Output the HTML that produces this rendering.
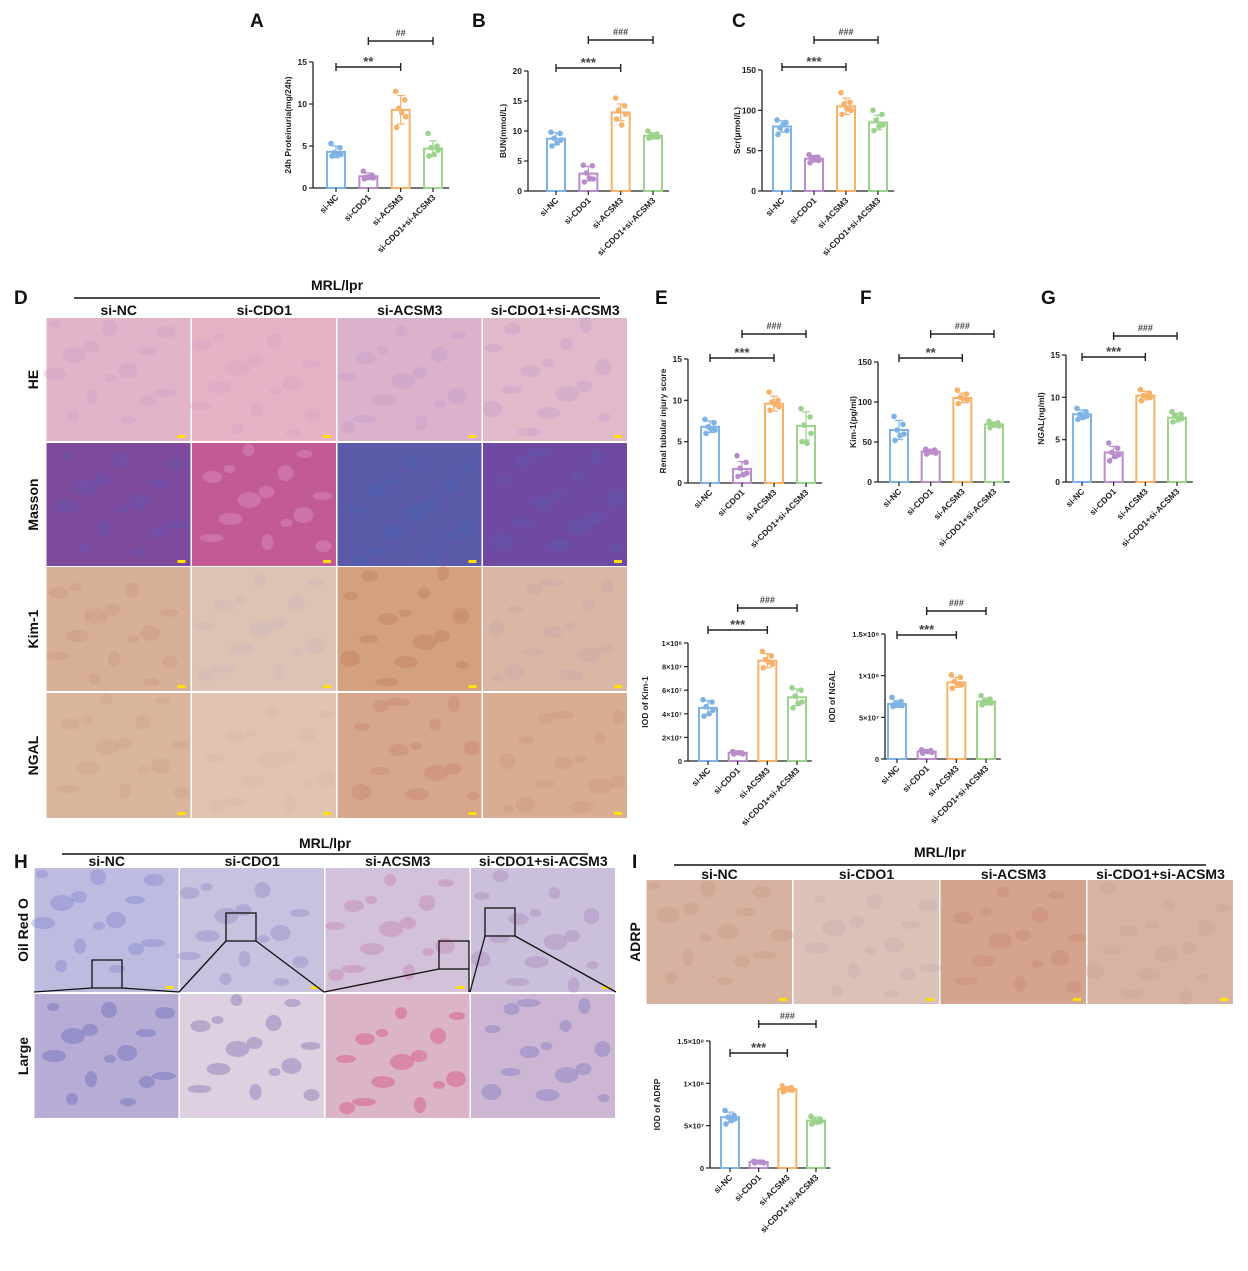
<!DOCTYPE html>
<html><head><meta charset="utf-8"><style>
html,body{margin:0;padding:0;background:#fff;}
svg text{font-family:"Liberation Sans",Arial,sans-serif;}
</style></head><body>
<svg id="fig" width="1248" height="1266" viewBox="0 0 1248 1266" xmlns="http://www.w3.org/2000/svg"></svg>
<script>
const categories=["si-NC","si-CDO1","si-ACSM3","si-CDO1+si-ACSM3"];
const colors=["#7fb2e5","#b98ccb","#f7b26a","#9bd28c"];
// Chart A
const aMeans=[4.3,1.4,9.3,4.7];
const aSd=[0.7,0.4,1.7,0.9];
const aPts=[[5.3,4.8,4.2,4.0,3.8,4.0],[2.0,1.5,1.3,1.2,1.1,1.3],[11.5,10.5,9.5,8.5,7.2,9.0],[6.5,5.0,4.8,4.5,3.8,4.0]];
const aTicks=[0,5,10,15];
// Chart B
const bMeans=[8.7,2.9,13.1,9.2];
const bSd=[1.0,1.2,1.4,0.5];
const bPts=[[9.8,9.6,8.8,8.5,7.5,8.0],[4.3,4.2,3.0,2.0,1.5,2.2],[15.5,14.2,13.5,12.8,12.0,11.0],[10.0,9.5,9.2,9.0,8.8,9.0]];
const bTicks=[0,5,10,15,20];
// Chart C
const cMeans=[80,40,105,85];
const cSd=[7,4,10,9];
const cPts=[[88,85,78,75,70,82],[45,42,40,38,35,40],[122,110,108,100,95,102],[100,95,88,82,75,80]];
const cTicks=[0,50,100,150];
// Chart E
const eMeans=[6.8,1.7,9.6,6.9];
const eSd=[0.7,0.9,0.9,1.7];
const ePts=[[7.7,7.3,6.8,6.4,6.0,6.5],[3.3,2.5,1.8,1.2,0.8,1.0],[11,10,9.8,9.2,8.8,9.5],[9,8,7,6,5,4.8]];
const eTicks=[0,5,10,15];
// Chart F
const fMeans=[65,38,105,72];
const fSd=[12,3,6,3];
const fPts=[[82,72,65,60,52,58],[41,40,38,36,35,38],[115,110,106,102,98,104],[76,74,72,70,68,71]];
const fTicks=[0,50,100,150];
// Chart G
const gMeans=[8.0,3.5,10.2,7.6];
const gSd=[0.5,0.7,0.5,0.5];
const gPts=[[8.7,8.3,8.0,7.8,7.4,7.6],[4.6,4.0,3.5,3.2,2.5,3.0],[10.9,10.5,10.2,10.0,9.6,10.1],[8.3,8.0,7.8,7.5,7.1,7.5]];
const gTicks=[0,5,10,15];
// IOD Kim-1 (units of 1e7)
const kMeans=[4.5,0.7,8.5,5.4];
const kSd=[0.6,0.1,0.6,0.7];
const kPts=[[5.2,5.0,4.6,4.3,3.8,4.0],[0.8,0.7,0.7,0.6,0.6,0.7],[9.3,8.9,8.6,8.2,7.9,8.4],[6.2,6.0,5.5,5.0,4.5,4.9]];
const kTicks=[0,2,4,6,8,10];
const kTickLabels=["0","2×10⁷","4×10⁷","6×10⁷","8×10⁷","1×10⁸"];
// IOD NGAL
const nMeans=[6.6,0.9,9.2,6.9];
const nSd=[0.4,0.15,0.6,0.4];
const nPts=[[7.4,6.9,6.6,6.4,6.3,6.5],[1.1,1.0,0.9,0.8,0.7,0.9],[10.1,9.8,9.3,8.9,8.5,9.0],[7.6,7.2,6.9,6.7,6.5,6.8]];
const nTicks=[0,5,10,15];
const nTickLabels=["0","5×10⁷","1×10⁸","1.5×10⁸"];
// IOD ADRP
const rMeans=[6.0,0.7,9.3,5.6];
const rSd=[0.6,0.1,0.3,0.4];
const rPts=[[6.8,6.2,6.0,5.8,5.2,5.6],[0.8,0.7,0.7,0.6,0.6,0.7],[9.7,9.5,9.3,9.2,9.0,9.3],[6.1,5.8,5.6,5.5,5.2,5.4]];
const rTicks=[0,5,10,15];
const rTickLabels=["0","5×10⁷","1×10⁸","1.5×10⁸"];

const NS="http://www.w3.org/2000/svg";
const svg=document.getElementById('fig');
function mk(tag,attrs,parent){const e=document.createElementNS(NS,tag);for(const k in attrs)e.setAttribute(k,attrs[k]);(parent||svg).appendChild(e);return e;}
function txt(s,attrs,parent){const e=mk('text',attrs,parent);e.textContent=s;return e;}

function chart(id,cfg,means,sds,pts,ticks,tickLabels,sig){
  const g=mk('g',{});
  
  
  const ymax=ticks[ticks.length-1];
  const yS=v=>cfg.y0-(v/ymax)*(cfg.y0-cfg.yTop);
  const xS=i=>cfg.x1+cfg.step*(i+0.5);
  const xEnd=xS(3)+cfg.step*0.5;
  const ax=mk('line',{x1:cfg.x0,y1:cfg.yTop,x2:cfg.x0,y2:cfg.y0,stroke:'#222','stroke-width':1.3},g);
  
  const xx=mk('line',{x1:cfg.x0,y1:cfg.y0,x2:xEnd,y2:cfg.y0,stroke:'#222','stroke-width':1.3},g);
  
  ticks.forEach((t,i)=>{
    mk('line',{x1:cfg.x0-4,y1:yS(t),x2:cfg.x0,y2:yS(t),stroke:'#222','stroke-width':1.2},g);
    const tl=txt(tickLabels?tickLabels[i]:String(t),{x:cfg.x0-6,y:yS(t)+3,'font-size':cfg.tfs||8.5,'text-anchor':'end',fill:'#222','font-weight':'bold'},g);
    
  });
  const yt=txt(cfg.ylabel,{x:0,y:0,'font-size':8.5,'text-anchor':'middle',fill:'#222','font-weight':'bold',transform:`translate(${cfg.x0-(cfg.ylOff||22)},${(cfg.y0+cfg.yTop)/2}) rotate(-90)`},g);
  
  const bw=cfg.bw||18;
  const jit=[-5,4,-2,5,-4,1];
  means.forEach((m,i)=>{
    const cx=xS(i);
    const b=mk('rect',{x:cx-bw/2,y:yS(m),width:bw,height:cfg.y0-yS(m),fill:'#fff',stroke:colors[i],'stroke-width':2},g);
    
    const hi=yS(m+sds[i]),lo=yS(m-sds[i]);
    mk('line',{x1:cx,y1:hi,x2:cx,y2:lo,stroke:colors[i],'stroke-width':1.2},g);
    mk('line',{x1:cx-4,y1:hi,x2:cx+4,y2:hi,stroke:colors[i],'stroke-width':1.2},g);
    mk('line',{x1:cx-4,y1:lo,x2:cx+4,y2:lo,stroke:colors[i],'stroke-width':1.2},g);
    pts[i].forEach((p,j)=>{
      const d=mk('circle',{cx:cx+jit[j],cy:yS(p),r:2.8,fill:colors[i]},g);
      
    });
    mk('line',{x1:cx,y1:cfg.y0,x2:cx,y2:cfg.y0+4,stroke:'#222','stroke-width':1.2},g);
    const xl=txt(categories[i],{x:0,y:0,'font-size':8.5,'text-anchor':'end',fill:'#222','font-weight':'bold',transform:`translate(${cx+3},${cfg.y0+10}) rotate(-45)`},g);
    
  });
  sig.forEach(s=>{
    const a=xS(s[0]),b=xS(s[1]);
    const br=mk('g',{},g);
    
    mk('line',{x1:a,y1:s[2],x2:b,y2:s[2],stroke:'#222','stroke-width':1.6},br);
    mk('line',{x1:a,y1:s[2]-4,x2:a,y2:s[2]+4,stroke:'#222','stroke-width':1.4},br);
    mk('line',{x1:b,y1:s[2]-4,x2:b,y2:s[2]+4,stroke:'#222','stroke-width':1.4},br);
    txt(s[3],{x:(a+b)/2,y:s[2]-(s[3][0]=='*'?1:5),'font-size':s[3][0]=='*'?13:9,'text-anchor':'middle',fill:'#444','font-weight':'bold'},br);
  });
}
function C(x0,y0,yTop,c0,c3,ylabel,extra){
  const step=(c3-c0)/3;
  return Object.assign({x0:x0,y0:y0,yTop:yTop,x1:c0-step*0.5,step:step,ylabel:ylabel},extra||{});
}
chart('chart-a-proteinuria',C(313,188,62,336,433,'24h Proteinuria(mg/24h)'),aMeans,aSd,aPts,aTicks,null,[[0,2,67,'**'],[1,3,41,'##']]);
chart('chart-b-bun',C(528,191,71,556,653,'BUN(mmol/L)'),bMeans,bSd,bPts,bTicks,null,[[0,2,68,'***'],[1,3,40,'###']]);
chart('chart-c-scr',C(762,191,70,782,878,'Scr(μmol/L)'),cMeans,cSd,cPts,cTicks,null,[[0,2,67,'***'],[1,3,40,'###']]);
chart('chart-e-injury-score',C(688,483,359,710,806,'Renal tubular injury score'),eMeans,eSd,ePts,eTicks,null,[[0,2,358,'***'],[1,3,334,'###']]);
chart('chart-f-kim1',C(878,482,362,899,994,'Kim-1(pg/ml)'),fMeans,fSd,fPts,fTicks,null,[[0,2,358,'**'],[1,3,334,'###']]);
chart('chart-g-ngal',C(1066,482,355,1082,1177,'NGAL(ng/ml)'),gMeans,gSd,gPts,gTicks,null,[[0,2,357,'***'],[1,3,336,'###']]);
chart('chart-iod-kim1',C(688,761,643,708,797,'IOD of Kim-1',{tfs:7.5,ylOff:40}),kMeans,kSd,kPts,kTicks,kTickLabels,[[0,2,630,'***'],[1,3,608,'###']]);
chart('chart-iod-ngal',C(885,759,634,897,986,'IOD of NGAL',{tfs:7.5,ylOff:50}),nMeans,nSd,nPts,nTicks,nTickLabels,[[0,2,635,'***'],[1,3,611,'###']]);
chart('chart-iod-adrp',C(710,1168,1041,730,816,'IOD of ADRP',{tfs:7.5,ylOff:50}),rMeans,rSd,rPts,rTicks,rTickLabels,[[0,2,1053,'***'],[1,3,1024,'###']]);

// Panel letters
[["A",250,27],["B",472,27],["C",732,27],["D",14,304],["E",655,304],["F",860,304],["G",1041,304],["H",14,868],["I",632,868]].forEach(l=>{
  const t=txt(l[0],{x:l[1],y:l[2],'font-size':19,'font-weight':'bold',fill:'#111'});
  
  
});

function grid(id,x0,x1,rows,colLabels,rowLabels,fills,headerY,lineY,titleY,labelX){
  const g=mk('g',{});
  
  
  const w=(x1-x0)/4;
  txt('MRL/lpr',{x:(x0+x1)/2,y:titleY,'font-size':14,'font-weight':'bold','text-anchor':'middle',fill:'#111'},g);
  mk('line',{x1:x0+28,y1:lineY,x2:x1-28,y2:lineY,stroke:'#111','stroke-width':1.6},g);
  colLabels.forEach((c,i)=>{
    const t=txt(c,{x:x0+w*(i+0.5),y:headerY,'font-size':14,'font-weight':'bold','text-anchor':'middle',fill:'#111'},g);
    
  });
  rows.forEach((r,ri)=>{
    const rl=txt(rowLabels[ri],{x:0,y:0,'font-size':14,'font-weight':'bold','text-anchor':'middle',fill:'#111',transform:`translate(${labelX},${(r[0]+r[1])/2}) rotate(-90)`},g);
    
    for(let i=0;i<4;i++){
      const f=fills[ri][i];
      const im=mk('rect',{x:x0+w*i+0.5,y:r[0],width:w-1.5,height:r[1]-r[0],fill:f[0]},g);
      
      for(let k=0;k<14;k++){
        const bx=x0+w*i+8+((k*37+i*19+ri*11)%(Math.floor(w)-16));
        const by=r[0]+6+((k*23+i*13+ri*7)%Math.floor(r[1]-r[0]-12));
        mk('ellipse',{cx:bx,cy:by,rx:6+(k%4)*2,ry:4+(k%3)*2,fill:f[1],opacity:0.3},g);
      }
      if(f[2]) mk('rect',{x:x0+w*(i+1)-14,y:r[1]-6,width:8,height:3,fill:'#ffe100'},g);
    }
  });
}
grid('panel-d-histology',46,628,[[318,441],[443,566],[567,691],[693,818]],categories,['HE','Masson','Kim-1','NGAL'],
 [[['#e3b3c9','#c99ac8',1],['#e6b2c6','#cf9fc4',1],['#dcb1cc','#b998c9',1],['#e2b8cb','#b798c6',1]],
  [['#7e4a9e','#5a5db8',1],['#c25a98','#e8b0cc',1],['#5b5aa8','#3f63b6',1],['#6f4aa2','#5560b5',1]],
  [['#d8b09a','#c58f74',1],['#dcc3b4','#c9b0b8',1],['#d3a17f','#b9704e',1],['#d9b7a4','#c8a3a8',1]],
  [['#dab59e','#c69a82',1],['#e0c4b0','#d2b0a8',1],['#d7a78b','#c07a62',1],['#d9ad92','#c7916f',1]]],
 315,298,290,38);
grid('panel-h-oil-red-o',34,616,[[868,992],[994,1118]],categories,['Oil Red O','Large'],
 [[['#bdbbe0','#6a70c8',1],['#c7c2df','#7a78c0',1],['#d2c1d8','#c06a9a',1],['#cbc0dc','#a070b0',1]],
  [['#b7acd5','#4a50b0',0],['#ddd0e0','#5c4aa0',0],['#dcb4c8','#d0205a',0],['#cdb6d4','#6060b8',0]]],
 866,854,848,28);
grid('panel-i-adrp',646,1234,[[880,1004]],categories,['ADRP'],
 [[['#d8b2a0','#c0907e',1],['#dcc2b6','#c0a7ae',1],['#d5a48e','#bf7f66',1],['#d9b3a2','#c59c92',1]]],
 879,865,857,640);

const zb=mk('g',{});


[[92,960,122,988,34,992,179,992],[226,913,256,941,179,992,324,992],[439,941,469,969,324,992,469,992],[485,908,515,936,470,992,616,992]].forEach(b=>{
  mk('rect',{x:b[0],y:b[1],width:b[2]-b[0],height:b[3]-b[1],fill:'none',stroke:'#111','stroke-width':1.3},zb);
  mk('line',{x1:b[0],y1:b[3],x2:b[4],y2:b[5],stroke:'#111','stroke-width':1.3},zb);
  mk('line',{x1:b[2],y1:b[3],x2:b[6],y2:b[7],stroke:'#111','stroke-width':1.3},zb);
});
</script>
</body></html>
